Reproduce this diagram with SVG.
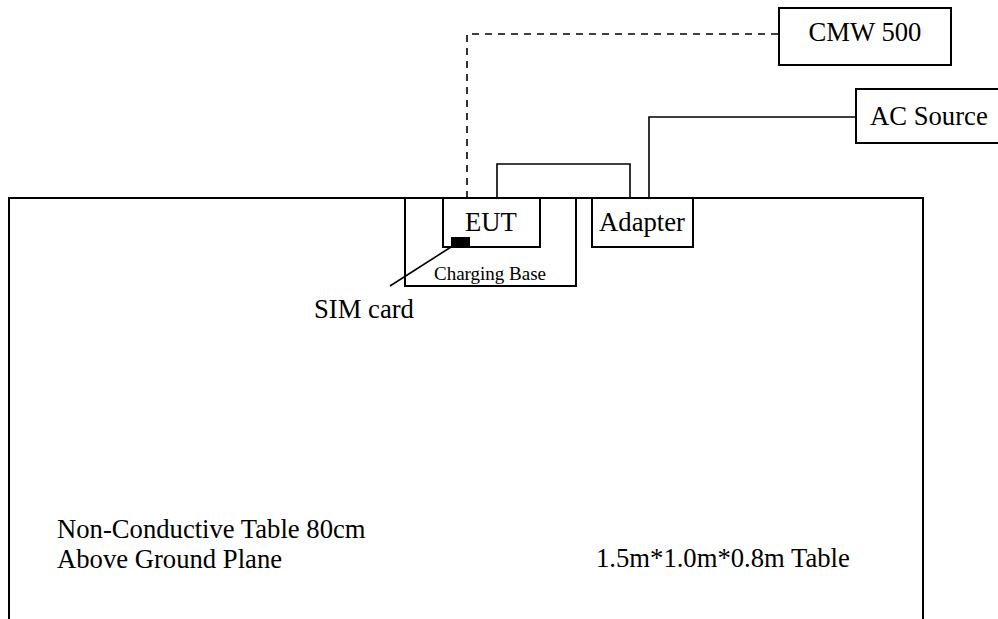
<svg xmlns="http://www.w3.org/2000/svg" width="998" height="619" viewBox="0 0 998 619">
<style>
.box{fill:none;stroke:#000;stroke-width:2}
.ln{fill:none;stroke:#000;stroke-width:1.6}
.dash{fill:none;stroke:#000;stroke-width:1.6;stroke-dasharray:7 6}
.t{font-family:"Liberation Serif","Times New Roman",serif;font-size:26.67px;fill:#000}
.s{font-family:"Liberation Serif","Times New Roman",serif;font-size:19px;fill:#000}
</style>
<rect width="998" height="619" fill="#fff"/>
<g id="table">
<path class="box" d="M9,619 V198 H923 V619"/>
<text class="t" x="57" y="538">Non-Conductive Table 80cm</text>
<text class="t" x="57" y="568">Above Ground Plane</text>
<text class="t" x="596" y="567">1.5m*1.0m*0.8m Table</text>
</g>
<g id="connectors">
<path class="dash" d="M467,198 V34 H779"/>
<path class="ln" d="M497,198 V164 H630 V198"/>
<path class="ln" d="M649,198 V117 H856"/>
<path class="ln" d="M451,247 L390,286"/>
</g>
<g id="cmw500">
<rect class="box" x="779" y="8" width="172" height="57"/>
<text class="t" x="865" y="41" text-anchor="middle">CMW 500</text>
</g>
<g id="acsource">
<path class="box" d="M999,89 H856 V143 H999"/>
<text class="t" x="870" y="125">AC Source</text>
</g>
<g id="chargingbase">
<rect class="box" x="405" y="198" width="171" height="88"/>
<text class="s" x="490" y="280" text-anchor="middle">Charging Base</text>
</g>
<g id="eut">
<rect class="box" x="443" y="198" width="97" height="49"/>
<text class="t" x="491" y="231" text-anchor="middle">EUT</text>
<rect x="451" y="237" width="19" height="10" fill="#000"/>
</g>
<g id="adapter">
<rect class="box" x="592" y="198" width="101" height="49"/>
<text class="t" x="642" y="231" text-anchor="middle">Adapter</text>
</g>
<g id="simcard">
<text class="t" x="314" y="318">SIM card</text>
</g>
</svg>
